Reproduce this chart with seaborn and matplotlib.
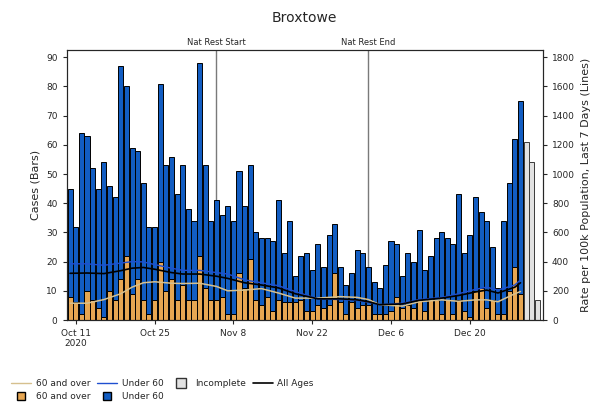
import pandas as pd
import matplotlib
matplotlib.use('Agg')
import matplotlib.pyplot as plt
import matplotlib.transforms as mtransforms
from matplotlib.lines import Line2D
import seaborn as sns

sns.set_style('ticks')
plt.rcParams['font.family'] = ['DejaVu Sans']

AREA = 'Broxtowe'
START_DATE = '2020-10-10'

# daily cases, Oct 10 .. Dec 29
over60_cases = [8, 6, 2, 10, 7, 4, 1, 10, 7, 14, 22, 9, 14, 7, 2, 7, 20, 10, 14, 7,
                12, 7, 7, 22, 11, 7, 7, 8, 2, 2, 16, 11, 21, 7, 5, 8, 3, 7, 6, 6,
                6, 7, 3, 3, 5, 4, 5, 16, 6, 2, 6, 4, 5, 5, 2, 2, 2, 3, 8, 4,
                5, 4, 7, 3, 7, 7, 2, 7, 2, 7, 3, 1, 10, 11, 4, 7, 2, 2, 10, 18, 9]
under60_cases = [37, 26, 62, 53, 45, 41, 53, 36, 35, 73, 58, 50, 44, 40, 30, 25, 61, 43, 42, 36,
                 41, 31, 27, 66, 42, 27, 34, 28, 37, 32, 35, 28, 32, 23, 23, 20, 24, 34, 17, 28,
                 9, 15, 20, 14, 21, 14, 24, 17, 12, 10, 10, 20, 18, 13, 11, 9, 17, 24, 18, 11,
                 18, 16, 24, 14, 15, 21, 28, 21, 24, 36, 20, 28, 32, 26, 30, 18, 9, 32, 37, 44, 66]

# last days, still incomplete
incomplete_dates = ['2020-12-30', '2020-12-31', '2021-01-01']
incomplete_cases = [61, 54, 7]

# 7 day rates per 100k (lines)
line_dates = ['2020-10-10', '2020-10-13', '2020-10-16', '2020-10-19', '2020-10-21', '2020-10-23',
              '2020-10-25', '2020-10-28', '2020-10-30', '2020-11-02', '2020-11-05', '2020-11-07',
              '2020-11-10', '2020-11-13', '2020-11-16', '2020-11-19', '2020-11-23', '2020-11-27',
              '2020-11-30', '2020-12-02', '2020-12-04', '2020-12-08', '2020-12-11', '2020-12-15',
              '2020-12-18', '2020-12-21', '2020-12-23', '2020-12-25', '2020-12-28', '2020-12-29']
rate_all = [320, 322, 318, 338, 355, 360, 348, 325, 315, 315, 300, 285,
            255, 240, 220, 180, 145, 145, 138, 125, 105, 110, 135, 150,
            168, 192, 205, 185, 225, 255]
rate_over60 = [115, 115, 140, 180, 225, 255, 262, 252, 250, 252, 230, 200,
               205, 215, 185, 150, 150, 160, 155, 140, 105, 95, 125, 138,
               128, 138, 138, 125, 180, 195]
rate_under60 = [385, 385, 375, 390, 400, 398, 380, 355, 340, 340, 325, 315,
                275, 255, 235, 195, 145, 140, 133, 122, 105, 115, 140, 155,
                180, 210, 225, 205, 240, 275]

event_dates = ['2020-11-05', '2020-12-02']
event_labels = ['Nat Rest Start', 'Nat Rest End']

tick_dates = ['2020-10-11', '2020-10-25', '2020-11-08', '2020-11-22', '2020-12-06', '2020-12-20']
tick_labels = ['Oct 11\n2020', 'Oct 25', 'Nov 8', 'Nov 22', 'Dec 6', 'Dec 20']

C_OVER = '#e6a652'
C_UNDER = '#125dc2'
C_LINE_OVER = '#d6c08e'
C_LINE_UNDER = '#1f4fd0'
C_INCOMPLETE = '#e2e2e2'

dates = pd.date_range(START_DATE, periods=len(over60_cases), freq='D')
inc_dates = pd.to_datetime(incomplete_dates)

fig = plt.figure(figsize=(6, 4.11), dpi=100)
ax = fig.add_axes([0.111, 0.2214, 0.794, 0.657])

# stacked bars, 60+ at the bottom
ax.bar(dates, over60_cases, width=0.9, color=C_OVER, edgecolor='black', linewidth=0.7, zorder=2)
ax.bar(dates, under60_cases, bottom=over60_cases, width=0.9, color=C_UNDER,
       edgecolor='black', linewidth=0.7, zorder=2)
ax.bar(inc_dates, incomplete_cases, width=0.9, color=C_INCOMPLETE, edgecolor='#3a3a3a',
       linewidth=0.7, zorder=2)

ax.set_ylim(0, 92.5)
ax.set_yticks(range(0, 91, 10))
ax.set_xlim(pd.Timestamp('2020-10-09 09:00'), pd.Timestamp('2021-01-02'))
ax.set_xticks(pd.to_datetime(tick_dates))
ax.set_xticklabels(tick_labels)
ax.set_ylabel('Cases (Bars)', fontsize=8)
ax.tick_params(labelsize=6.5, length=3)

# national restriction markers
trans = mtransforms.blended_transform_factory(ax.transData, ax.transAxes)
for d, lab in zip(pd.to_datetime(event_dates), event_labels):
    ax.axvline(d, color='#7a7a7a', linewidth=1, zorder=1)
    ax.text(d, 1.01, lab, transform=trans, ha='center', va='bottom', fontsize=6)

# rate lines
ax2 = ax.twinx()
ldates = pd.to_datetime(line_dates)
sns.lineplot(x=ldates, y=rate_over60, ax=ax2, color=C_LINE_OVER, linewidth=1.1)
sns.lineplot(x=ldates, y=rate_under60, ax=ax2, color=C_LINE_UNDER, linewidth=1.0)
sns.lineplot(x=ldates, y=rate_all, ax=ax2, color='black', linewidth=1.2)
ax2.set_ylim(0, 1850)
ax2.set_yticks(range(0, 1801, 200))
ax2.set_ylabel('Rate per 100k Population, Last 7 Days (Lines)', fontsize=8)
ax2.tick_params(labelsize=6.5, length=3)

fig.text(0.508, 0.955, AREA, ha='center', va='center', fontsize=10)

handles = [
    Line2D([], [], color=C_LINE_OVER, linewidth=1, label='60 and over'),
    Line2D([], [], marker='s', linestyle='none', markersize=6, markerfacecolor=C_OVER,
           markeredgecolor='black', label='60 and over'),
    Line2D([], [], color=C_LINE_UNDER, linewidth=1, label='Under 60'),
    Line2D([], [], marker='s', linestyle='none', markersize=6, markerfacecolor=C_UNDER,
           markeredgecolor='black', label='Under 60'),
    Line2D([], [], marker='s', linestyle='none', markersize=7, markerfacecolor=C_INCOMPLETE,
           markeredgecolor='#333333', label='Incomplete'),
    Line2D([], [], color='black', linewidth=1.2, label='All Ages'),
]
fig.legend(handles=handles, ncol=4, loc='lower left', bbox_to_anchor=(0.005, 0.005),
           frameon=False, fontsize=6.5, handlelength=2.2, handletextpad=0.5,
           columnspacing=0.8, labelspacing=0.4)

fig.savefig('out.png', dpi=100)
